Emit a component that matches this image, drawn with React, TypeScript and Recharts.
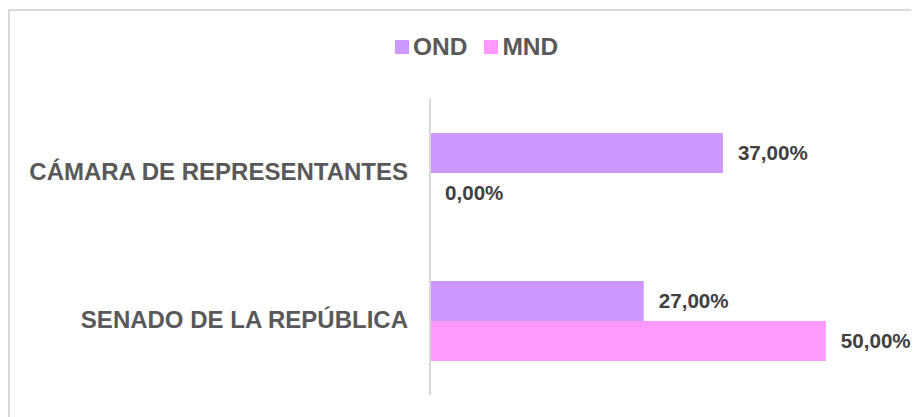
import React from "react";
import { BarChart, Bar, XAxis, YAxis, LabelList } from "recharts";

const categories = ["CÁMARA DE REPRESENTANTES", "SENADO DE LA REPÚBLICA"];
const ondValues = [37, 27];
const mndValues = [0, 50];
const seriesNames = ["OND", "MND"];
const seriesColors = ["#CC99FF", "#FF99FF"];

const data = categories.map((name, i) => ({
  name,
  OND: ondValues[i],
  MND: mndValues[i],
}));

const FONT = "'Liberation Sans', Arial, sans-serif";

const fmt = (v: any) => Number(v).toFixed(2).replace(".", ",") + "%";

const CategoryTick = (props: any) => {
  const { x, y, payload } = props;
  return (
    <text
      x={x}
      y={y}
      dy="0.3em"
      textAnchor="end"
      fill="#595959"
      fontSize={24}
      fontWeight="bold"
      fontFamily={FONT}
    >
      {payload.value}
    </text>
  );
};

const LegendBox = () => (
  <div
    style={{
      position: "absolute",
      top: 25,
      left: 387,
      display: "flex",
      alignItems: "center",
      fontFamily: FONT,
    }}
  >
    {seriesNames.map((n, i) => (
      <div key={n} style={{ display: "flex", alignItems: "center", marginRight: i === 0 ? 17 : 0 }}>
        <span style={{ display: "inline-block", width: 14, height: 14, background: seriesColors[i] }} />
        <span style={{ marginLeft: 4, fontSize: 24.5, fontWeight: "bold", color: "#595959", lineHeight: "28px" }}>{n}</span>
      </div>
    ))}
  </div>
);

export default function App() {
  return (
    <div style={{ paddingTop: 1, position: "relative" }}>
      <div
        style={{
          width: 909,
          height: 406,
          borderTop: "2px solid #d9d9d9",
          borderLeft: "2px solid #d9d9d9",
          background: "#fff",
        }}
      >
        <BarChart
          width={909}
          height={406}
          data={data}
          layout="vertical"
          margin={{ top: 88, right: 14, bottom: 22, left: 0 }}
          barGap={0}
        >
          <XAxis type="number" domain={[0, 60]} hide />
          <YAxis
            type="category"
            dataKey="name"
            width={420}
            axisLine={{ stroke: "#d9d9d9", strokeWidth: 2 }}
            tickLine={false}
            tickSize={0}
            tickMargin={22}
            tick={<CategoryTick />}
          />
          <Bar dataKey="OND" fill={seriesColors[0]} barSize={40} isAnimationActive={false}>
            <LabelList
              dataKey="OND"
              position="right"
              offset={15}
              formatter={fmt}
              fill="#404040"
              fontSize={20.6}
              fontWeight="bold"
              fontFamily={FONT}
            />
          </Bar>
          <Bar dataKey="MND" fill={seriesColors[1]} barSize={40} minPointSize={0.01} isAnimationActive={false}>
            <LabelList
              dataKey="MND"
              position="right"
              offset={15}
              formatter={fmt}
              fill="#404040"
              fontSize={20.6}
              fontWeight="bold"
              fontFamily={FONT}
            />
          </Bar>
        </BarChart>
      </div>
      <LegendBox />
    </div>
  );
}
